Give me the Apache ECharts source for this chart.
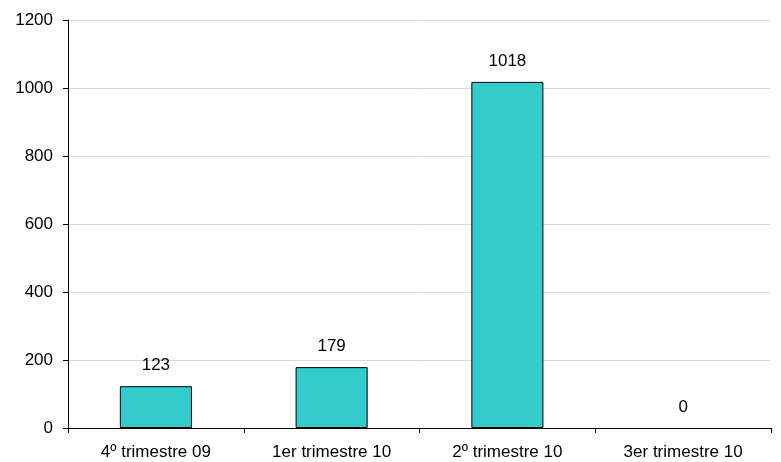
<!DOCTYPE html>
<html>
<head>
<meta charset="utf-8">
<script src="https://cdn.jsdelivr.net/npm/echarts@6/dist/echarts.min.js"></script>
<style>html,body{margin:0;padding:0;background:#fff;}#c{width:781px;height:462px;}</style>
</head>
<body>
<div id="c"></div>
<script>
var categories = ['4º trimestre 09', '1er trimestre 10', '2º trimestre 10', '3er trimestre 10'];
var values = [123, 179, 1018, 0];
var yTicks = [0, 200, 400, 600, 800, 1000, 1200];

var FONT = 'Liberation Sans, Arial, sans-serif';
var chart = echarts.init(document.getElementById('c'));
chart.setOption({
  animation: false,
  backgroundColor: '#ffffff',
  textStyle: { fontFamily: FONT },
  grid: { left: 68, right: 10, top: 20, bottom: 34, containLabel: false },
  xAxis: {
    type: 'category',
    data: categories,
    boundaryGap: true,
    axisLine: { show: true, lineStyle: { color: '#000', width: 1 } },
    axisTick: { show: true, alignWithLabel: false, length: 5, lineStyle: { color: '#000' } },
    axisLabel: { color: '#000', fontSize: 17, margin: 16, fontFamily: FONT },
    splitLine: { show: false }
  },
  yAxis: {
    type: 'value',
    min: yTicks[0],
    max: yTicks[yTicks.length - 1],
    interval: 200,
    axisLine: { show: true, lineStyle: { color: '#000', width: 1 } },
    axisTick: { show: true, length: 5, lineStyle: { color: '#000' } },
    axisLabel: { color: '#000', fontSize: 17, margin: 15, fontFamily: FONT, formatter: function (v) { return String(v); } },
    splitLine: { show: true, lineStyle: { color: '#d9d9d9', width: 1 } }
  },
  series: [{
    type: 'bar',
    data: values.map(function (v) {
      return v === 0 ? { value: v, itemStyle: { borderWidth: 0, color: 'transparent' } } : v;
    }),
    barWidth: '41%',
    itemStyle: { color: '#33CCCC', borderColor: '#000', borderWidth: 1 },
    label: { show: true, position: 'top', distance: 12, color: '#000', fontSize: 17, fontFamily: FONT }
  }]
});
</script>
</body>
</html>
